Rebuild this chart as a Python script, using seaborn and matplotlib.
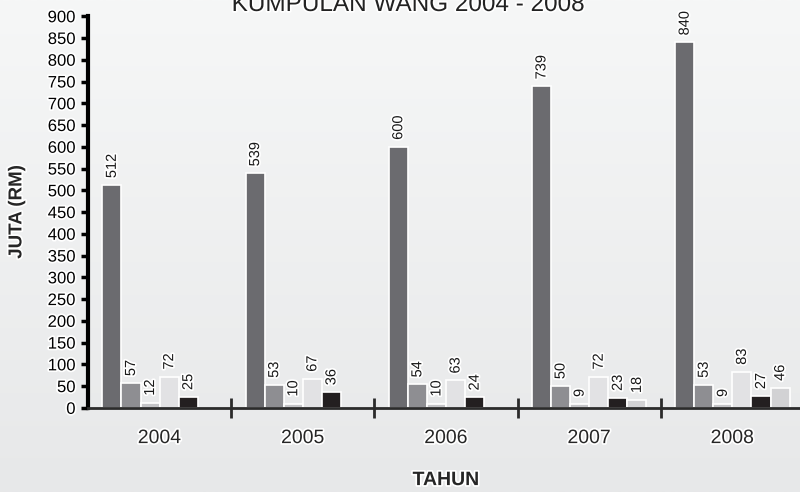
# ============================================
# Kumpulan Wang 2004 - 2008 (grouped bar chart)
# ============================================

import numpy as np
import pandas as pd
import matplotlib
matplotlib.use("Agg")
import matplotlib.pyplot as plt
import matplotlib.patheffects as pe
from matplotlib.ticker import FixedLocator, MultipleLocator
import seaborn as sns

# --------------------------------------------
# Data (juta RM)
# --------------------------------------------
years = ["2004", "2005", "2006", "2007", "2008"]
series_names = ["Siri 1", "Siri 2", "Siri 3", "Siri 4", "Siri 5", "Siri 6"]

siri_1 = [512, 539, 600, 739, 840]
siri_2 = [57, 53, 54, 50, 53]
siri_3 = [12, 10, 10, 9, 9]
siri_4 = [72, 67, 63, 72, 83]
siri_5 = [25, 36, 24, 23, 27]
siri_6 = [None, None, None, 18, 46]

bar_colors = ["#6b6b6f", "#8e8e92", "#c4c4c7", "#e2e2e4", "#231f20", "#d2d2d4"]

# long form table for seaborn
rows = []
for name, vals in zip(series_names, [siri_1, siri_2, siri_3, siri_4, siri_5, siri_6]):
    for yr, v in zip(years, vals):
        if v is not None:
            rows.append({"Tahun": yr, "Siri": name, "Nilai": v})
df = pd.DataFrame(rows)

# --------------------------------------------
# Settings
# --------------------------------------------
sns.set_style("ticks")
plt.rcParams["font.family"] = ["Liberation Sans", "DejaVu Sans"]

fig = plt.figure(figsize=(8, 4.92), dpi=100)

# gradient background
bg = fig.add_axes([0, 0, 1, 1])
grad = np.linspace(0, 1, 256).reshape(-1, 1)
bg.imshow(grad, aspect="auto", extent=[0, 1, 0, 1],
          cmap=matplotlib.colors.LinearSegmentedColormap.from_list(
              "bg", ["#e7e8e9", "#f6f7f7"]), origin="lower")
bg.set_axis_off()

ax = fig.add_axes([0.11, 0.171, 0.895, 0.796])
ax.set_facecolor("none")

halo = [pe.withStroke(linewidth=2.5, foreground="white")]

sns.barplot(data=df, x="Tahun", y="Nilai", hue="Siri", order=years,
            hue_order=series_names, palette=bar_colors, width=0.8,
            edgecolor="white", linewidth=1.2, saturation=1,
            legend=False, ax=ax)

for cont in ax.containers:
    labels = ax.bar_label(cont, fmt="%d", rotation=90, padding=5,
                          fontsize=10.5, color="#1a1a1a")
    for t in labels:
        t.set_path_effects(halo)

# --------------------------------------------
# Axes styling
# --------------------------------------------
ax.set_ylim(0, 900)
ax.set_xlim(-0.5, 4.5)
ax.yaxis.set_major_locator(MultipleLocator(50))

for s in ["top", "right"]:
    ax.spines[s].set_visible(False)
ax.spines["left"].set_linewidth(3)
ax.spines["left"].set_color("black")
ax.spines["bottom"].set_linewidth(2)
ax.spines["bottom"].set_color("#2b2b2b")

ax.tick_params(axis="y", direction="out", length=5, width=2.5,
               labelsize=12, pad=4, colors="black")
ax.tick_params(axis="x", which="major", length=0, labelsize=14, pad=16)
ax.xaxis.set_minor_locator(FixedLocator([0.5, 1.5, 2.5, 3.5]))
ax.tick_params(axis="x", which="minor", direction="inout", length=14,
               width=2, color="#2b2b2b")

for t in ax.get_yticklabels() + ax.get_xticklabels():
    t.set_path_effects(halo)

ax.set_ylabel("JUTA (RM)", fontsize=13.5, fontweight="bold", labelpad=16)
ax.set_xlabel("TAHUN", fontsize=14, fontweight="bold", labelpad=18)
ax.yaxis.label.set_path_effects(halo)
ax.xaxis.label.set_path_effects(halo)

fig.text(0.51, 1 - 11 / 492, "KUMPULAN WANG 2004 - 2008", ha="center",
         va="baseline", fontsize=17.5, color="#222222", path_effects=halo)

fig.savefig("out.png", dpi=100)
